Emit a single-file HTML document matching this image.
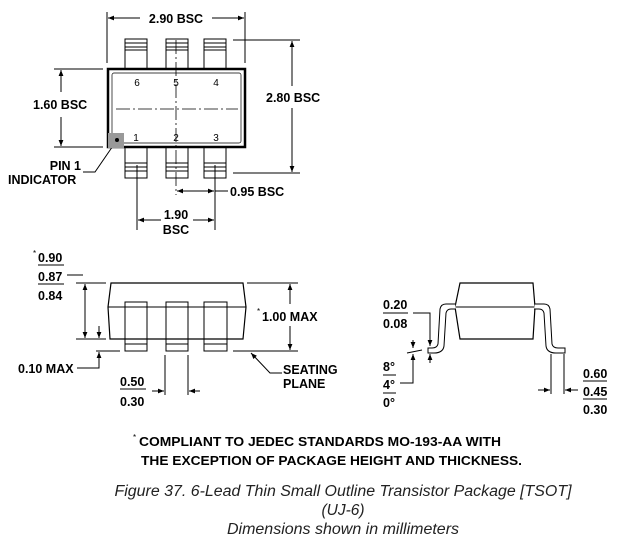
<!DOCTYPE html>
<html><head><meta charset="utf-8"><style>
html,body{margin:0;padding:0;background:#fff;width:620px;height:550px;overflow:hidden}
svg{display:block}
.t{font-family:"Liberation Sans",Arial,sans-serif;font-weight:bold;font-size:12.5px;fill:#000}
.n{font-family:"Liberation Sans",Arial,sans-serif;font-size:10px;fill:#000}
.c{font-family:"Liberation Sans",Arial,sans-serif;font-style:italic;font-size:15.5px;fill:#222}
</style></head><body>
<svg width="620" height="550" viewBox="0 0 620 550" xmlns="http://www.w3.org/2000/svg">
<defs>
<marker id="a" viewBox="0 0 10 10" refX="10" refY="5" markerWidth="8" markerHeight="6" orient="auto-start-reverse" markerUnits="userSpaceOnUse"><path d="M0,1 L10,5 L0,9 z" fill="#000"/></marker>
</defs>
<g stroke="#000" stroke-width="1" fill="none">
<line x1="107" y1="12" x2="107" y2="63"/><line x1="245" y1="12" x2="245" y2="63"/>
<line x1="108" y1="18" x2="140" y2="18" marker-start="url(#a)"/><line x1="212" y1="18" x2="244" y2="18" marker-end="url(#a)"/>
<g fill="#fff">
<rect x="125" y="39" width="22" height="30"/><rect x="166" y="39" width="22" height="30"/><rect x="204" y="39" width="22" height="30"/>
<rect x="125" y="147" width="22" height="31"/><rect x="166" y="147" width="22" height="31"/><rect x="204" y="147" width="22" height="31"/>
</g>
<path d="M125 43H147M125 47H147M125 50H147M166 43H188M166 47H188M166 50H188M204 43H226M204 47H226M204 50H226"/>
<path d="M125 163H147M125 167H147M125 171H147M166 163H188M166 167H188M166 171H188M204 163H226M204 167H226M204 171H226"/>
<rect x="108" y="69" width="137" height="78" stroke-width="2.5" fill="#fff"/>
<rect x="112" y="73" width="129" height="70" rx="2" stroke-width="0.7"/>
<line x1="116" y1="109" x2="238" y2="109" stroke-dasharray="14,3,2,3" stroke-width="0.8"/>
<line x1="176" y1="40" x2="176" y2="195" stroke-dasharray="14,3,2,3" stroke-width="0.8"/>
<line x1="54" y1="69" x2="103" y2="69"/><line x1="54" y1="147" x2="103" y2="147"/>
<line x1="61" y1="70" x2="61" y2="92" marker-start="url(#a)"/><line x1="61" y1="117" x2="61" y2="146" marker-end="url(#a)"/>
<line x1="233" y1="40" x2="300" y2="40"/><line x1="233" y1="173" x2="300" y2="173"/>
<line x1="292" y1="41" x2="292" y2="86" marker-start="url(#a)"/><line x1="292" y1="108" x2="292" y2="172" marker-end="url(#a)"/>
<polyline points="117,140 95,172 83,172"/>
<line x1="215" y1="165" x2="215" y2="230"/><line x1="137" y1="165" x2="137" y2="230"/>
<line x1="177" y1="191" x2="214" y2="191" marker-start="url(#a)" marker-end="url(#a)"/>
<line x1="215" y1="191" x2="228" y2="191"/>
<line x1="138" y1="220" x2="161" y2="220" marker-start="url(#a)"/><line x1="193" y1="220" x2="214" y2="220" marker-end="url(#a)"/>

<g fill="#fff">
<rect x="125" y="302" width="22" height="49"/><rect x="166" y="302" width="22" height="49"/><rect x="204" y="302" width="23" height="49"/>
</g>
<path d="M111 283 H243 L246 307 L243 339 H110 L108 307 Z" fill="none" stroke-width="1.2"/>
<path d="M108 307H125M147 307H166M188 307H204M227 307H246"/>
<path d="M125 307H147M166 307H188M204 307H227"/>
<path d="M125 339H147M166 339H188M204 339H227M125 344H147M166 344H188M204 344H227"/>
<path d="M38 265H64M38 284H64"/>
<polyline points="67,275 83,275"/>
<line x1="76" y1="283" x2="106" y2="283"/><line x1="76" y1="339" x2="106" y2="339"/>
<line x1="85" y1="284" x2="85" y2="338" marker-start="url(#a)" marker-end="url(#a)"/>
<line x1="99" y1="326" x2="99" y2="338" marker-end="url(#a)"/>
<line x1="96" y1="351" x2="120" y2="351"/>
<polyline points="77,368 99,368 99,352" marker-end="url(#a)"/>
<line x1="233" y1="351" x2="298" y2="351"/><line x1="247" y1="283" x2="298" y2="283"/>
<line x1="290" y1="284" x2="290" y2="304" marker-start="url(#a)"/><line x1="290" y1="326" x2="290" y2="350" marker-end="url(#a)"/>
<polyline points="282,373 270,373 251,353" marker-end="url(#a)"/>
<line x1="165" y1="355" x2="165" y2="395"/><line x1="188" y1="355" x2="188" y2="395"/>
<line x1="152" y1="391" x2="164" y2="391" marker-end="url(#a)"/><line x1="200" y1="391" x2="189" y2="391" marker-end="url(#a)"/>
<path d="M120 389H146"/>

<path d="M460 283 H533 L535 307 L533 339 H460 L455 307 Z" stroke-width="1.2" fill="#fff"/>
<line x1="455" y1="307" x2="535" y2="307"/>
<path d="M455 304 H446 Q441 304 440 309 L438 344 Q437 348 432 348 H428 V353 H434 Q443 353 444 346 L446 313 Q447 309 451 309 H456" fill="#fff"/>
<path d="M535 304 H544 Q549 304 550 309 L552 344 Q553 348 558 348 H565 V353 H556 Q547 353 546 346 L544 313 Q543 309 539 309 H534" fill="#fff"/>
<path d="M383 313H408M383 375H396M383 393H396M583 381H607M583 399H607"/>
<polyline points="413,313 430,313 430,346" marker-end="url(#a)"/>
<line x1="430" y1="363" x2="430" y2="354" marker-end="url(#a)"/>
<line x1="413" y1="340" x2="413" y2="348" marker-end="url(#a)"/>
<polyline points="400,383 413,383 413,354" marker-end="url(#a)"/>
<line x1="407" y1="353" x2="422" y2="350"/>
<line x1="551" y1="354" x2="551" y2="394"/><line x1="564" y1="354" x2="564" y2="394"/>
<line x1="538" y1="390" x2="550" y2="390" marker-end="url(#a)"/><line x1="578" y1="390" x2="565" y2="390" marker-end="url(#a)"/>
</g>
<rect x="108" y="133" width="16" height="15" fill="#999"/>
<circle cx="117" cy="140" r="2" fill="#000"/>
<g class="t">
<text x="176" y="23" text-anchor="middle">2.90 BSC</text>
<text x="33" y="109">1.60 BSC</text>
<text x="266" y="102">2.80 BSC</text>
<text x="81" y="170" text-anchor="end">PIN 1</text>
<text x="8" y="184">INDICATOR</text>
<text x="230" y="196">0.95 BSC</text>
<text x="176" y="219" text-anchor="middle">1.90</text>
<text x="176" y="234" text-anchor="middle">BSC</text>
<text x="38" y="262">0.90</text><text x="33" y="256" style="font-size:8px;font-weight:normal">*</text>
<text x="38" y="281">0.87</text>
<text x="38" y="300">0.84</text>
<text x="18" y="373">0.10 MAX</text>
<text x="262" y="321">1.00 MAX</text><text x="257" y="314" style="font-size:8px;font-weight:normal">*</text>
<text x="283" y="374">SEATING</text>
<text x="283" y="388">PLANE</text>
<text x="120" y="386">0.50</text>
<text x="120" y="406">0.30</text>
<text x="383" y="309">0.20</text>
<text x="383" y="328">0.08</text>
<text x="383" y="371">8°</text>
<text x="383" y="389">4°</text>
<text x="383" y="407">0°</text>
<text x="583" y="378">0.60</text>
<text x="583" y="396">0.45</text>
<text x="583" y="414">0.30</text>
<text x="139" y="446" style="font-size:13px" textLength="362" lengthAdjust="spacingAndGlyphs">COMPLIANT TO JEDEC STANDARDS MO-193-AA WITH</text>
<text x="133" y="440" style="font-size:8px;font-weight:normal">*</text>
<text x="141" y="465" style="font-size:13px" textLength="381" lengthAdjust="spacingAndGlyphs">THE EXCEPTION OF PACKAGE HEIGHT AND THICKNESS.</text>
</g>
<g class="n">
<text x="137" y="86" text-anchor="middle">6</text><text x="176" y="86" text-anchor="middle">5</text><text x="216" y="86" text-anchor="middle">4</text>
<text x="136" y="141" text-anchor="middle">1</text><text x="176" y="141" text-anchor="middle">2</text><text x="216" y="141" text-anchor="middle">3</text>
</g>
<g class="c" text-anchor="middle">
<text x="343" y="496" textLength="457" lengthAdjust="spacingAndGlyphs">Figure 37. 6-Lead Thin Small Outline Transistor Package [TSOT]</text>
<text x="343" y="515">(UJ-6)</text>
<text x="343" y="534" style="font-size:16px">Dimensions shown in millimeters</text>
</g>
</svg>
</body></html>
